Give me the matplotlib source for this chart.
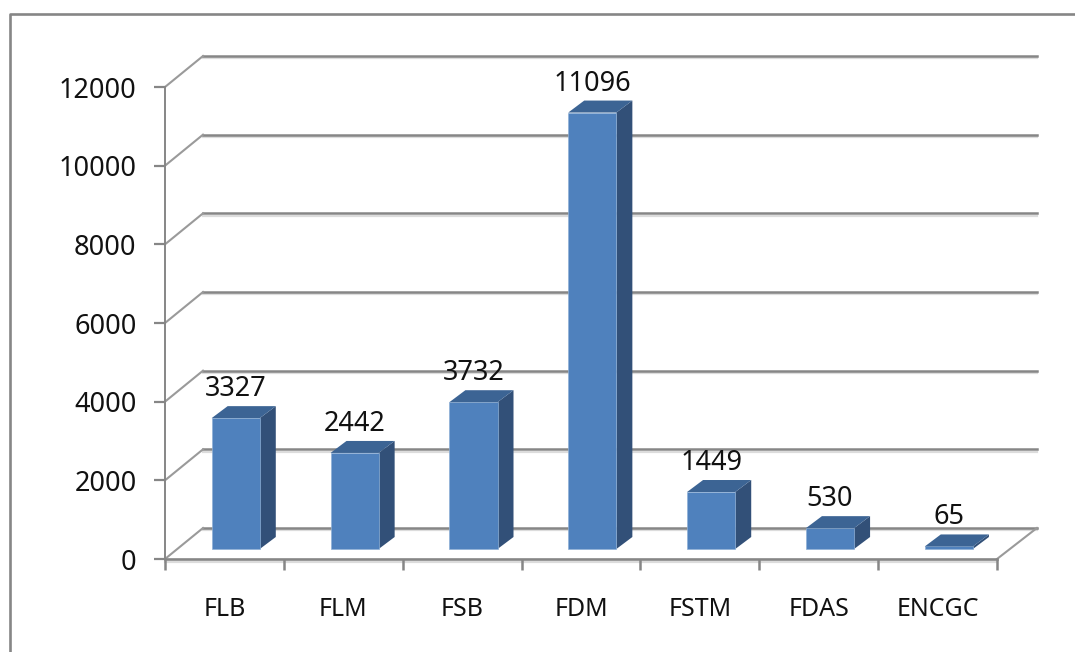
import matplotlib
matplotlib.use('Agg')
import matplotlib.pyplot as plt
from matplotlib.lines import Line2D
import numpy as np

categories = ['FLB', 'FLM', 'FSB', 'FDM', 'FSTM', 'FDAS', 'ENCGC']
values = [3327, 2442, 3732, 11096, 1449, 530, 65]
yticks = [0, 2000, 4000, 6000, 8000, 10000, 12000]

GREY = '#868686'
SHADOW = '#dcdcdc'
FRONT = '#4f81bd'
SIDE = '#325078'
TOP = '#3c6494'

plt.rcParams['font.family'] = ['Noto Sans', 'DejaVu Sans']

W, H = 1075, 652
fig = plt.figure(figsize=(W / 100, H / 100), dpi=100)
ax = fig.add_axes([165 / W, (H - 559) / H, 832 / W, 472 / H])
ax.set_xlim(0, 7)
ax.set_ylim(0, 12000)
ax.patch.set_alpha(0)

px_x = 7 / 832      # data units per pixel
px_y = 12000 / 472

# outer chart frame
fig.add_artist(Line2D([10 / W, 10 / W, 1], [0, 1 - 14 / H, 1 - 14 / H], color=GREY, lw=1.9))

# back wall gridlines and the slanted floor/wall lines
back_x = 38 * px_x
back_y = 31 * px_y
for t in yticks:
    ax.plot([back_x, 7 + back_x * 1.05], [t + back_y - 60, t + back_y - 60], color=SHADOW, lw=1.6, clip_on=False, zorder=1)
    ax.plot([back_x, 7 + back_x * 1.05], [t + back_y, t + back_y], color=GREY, lw=1.8, clip_on=False, zorder=1.2)
    ax.plot([0, back_x], [t, t + back_y], color='#9a9a9a', lw=1.5, clip_on=False, zorder=1.2)
ax.plot([7, 7 + back_x * 1.05], [0, back_y], color='#9a9a9a', lw=1.5, clip_on=False, zorder=1.2)

# bars: front face from bar(), side and top from the same values
x = np.arange(len(categories)) + 0.5
bar_off = 0.095
bar_w = 0.405
base = 10 * px_y
depth_x = 16 * px_x
depth_y = 12 * px_y
ax.bar(x + bar_off, values, width=bar_w, bottom=base, color=FRONT, edgecolor='#8fb0d6', linewidth=0.5, zorder=3, clip_on=False)
for xi, v in zip(x, values):
    x0 = xi + bar_off - bar_w / 2
    x1 = xi + bar_off + bar_w / 2
    y0 = base
    y1 = base + v
    ax.fill([x1, x1 + depth_x, x1 + depth_x, x1], [y0, y0 + depth_y, y1 + depth_y, y1], color=SIDE, lw=0, zorder=2.9, clip_on=False)
    ax.fill([x0, x1, x1 + depth_x, x0 + depth_x], [y1, y1, y1 + depth_y, y1 + depth_y], color=TOP, lw=0, zorder=3.1, clip_on=False)
    ax.text(xi + bar_off, y1 + 29 * px_y, str(v), ha='center', va='center', fontsize=19.5, color='#111111', zorder=4)

# axes
for s in ['top', 'right']:
    ax.spines[s].set_visible(False)
ax.spines['left'].set_color(GREY)
ax.spines['left'].set_linewidth(1.4)
ax.spines['bottom'].set_color(GREY)
ax.spines['bottom'].set_linewidth(1.9)
ax.plot([0, 7], [-80, -80], color=SHADOW, lw=1.6, clip_on=False, zorder=1)

ax.set_yticks(yticks)
ax.set_yticklabels([str(t) for t in yticks], fontsize=19.5, color='#111111')
ax.tick_params(axis='y', length=8, width=1.6, color=GREY, pad=12.5)

ax.set_xticks(np.arange(len(categories) + 1))
ax.set_xticklabels([])
ax.set_xticks(x, minor=True)
ax.set_xticklabels(categories, minor=True, fontsize=18, color='#111111')
ax.tick_params(axis='x', which='major', length=8, width=1.8, color=GREY)
ax.tick_params(axis='x', which='minor', length=0, pad=27)

fig.savefig('out.png', dpi=100)
